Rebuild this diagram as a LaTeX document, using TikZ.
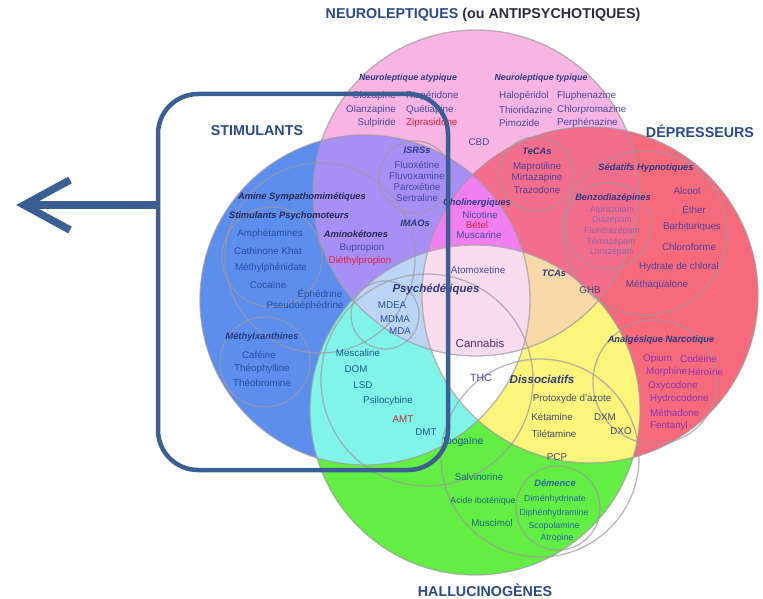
\documentclass[tikz,border=0pt]{standalone}
\usepackage{fontspec}
\setmainfont{Liberation Sans}
\definecolor{cBlue}{RGB}{92,142,238}
\definecolor{cPink}{RGB}{248,180,226}
\definecolor{cRed}{RGB}{247,106,124}
\definecolor{cPR}{RGB}{243,110,140}
\definecolor{cGreen}{RGB}{98,238,66}
\definecolor{cPurple}{RGB}{166,143,245}
\definecolor{cMagenta}{RGB}{240,128,240}
\definecolor{cCyan}{RGB}{128,244,232}
\definecolor{cYellow}{RGB}{251,245,124}
\definecolor{cLBlue}{RGB}{188,213,247}
\definecolor{cLPink}{RGB}{249,220,238}
\definecolor{cPeach}{RGB}{249,217,168}
\definecolor{lineC}{RGB}{160,152,160}
\definecolor{frameC}{RGB}{59,95,146}
\definecolor{titleC}{RGB}{43,74,140}
\definecolor{ouC}{RGB}{45,45,60}
\definecolor{headC}{RGB}{46,58,128}
\definecolor{darkHead}{RGB}{40,40,85}
\definecolor{pinkT}{RGB}{72,72,160}
\definecolor{blueT}{RGB}{38,80,160}
\definecolor{cyanT}{RGB}{30,88,142}
\definecolor{redT}{RGB}{224,32,58}
\definecolor{amtT}{RGB}{190,48,48}
\definecolor{sedT}{RGB}{80,64,154}
\definecolor{benzoT}{RGB}{150,98,168}
\definecolor{narcT}{RGB}{138,53,176}
\definecolor{dissT}{RGB}{72,72,110}
\definecolor{greenT}{RGB}{26,104,122}
\definecolor{demT}{RGB}{40,104,154}
\definecolor{cannT}{RGB}{90,42,106}
\begin{document}
\begin{tikzpicture}[x=1pt,y=-1pt,
  lbl/.style={inner sep=0pt,font=\fontsize{9.8}{11}\selectfont},
  small/.style={inner sep=0pt,font=\fontsize{8.8}{10}\selectfont},
  hdr/.style={inner sep=0pt,text=headC,font=\fontsize{9.3}{11}\selectfont\bfseries\itshape},
  bighdr/.style={inner sep=0pt,text=headC,font=\fontsize{11.5}{13}\selectfont\bfseries\itshape},
  ttl/.style={inner sep=0pt,text=titleC,font=\fontsize{14.3}{16}\selectfont\bfseries},
  subc/.style={draw=lineC,line width=1.3pt,opacity=0.7},
  framestyle/.style={draw=frameC,line width=4.5pt,rounded corners=40pt},
  arrowstyle/.style={draw=frameC,line width=7.5pt}
]
\useasboundingbox (0,0) rectangle (763,599);
\fill[white] (0,0) rectangle (763,599);
\coordinate (cb) at (365,300);
\coordinate (cp) at (476,193);
\coordinate (cr) at (590,295);
\coordinate (cg) at (475,410);
% base circles
\fill[cBlue] (cb) circle[radius=165pt];
\fill[cPink] (cp) circle[radius=163pt];
\fill[cRed] (cr) circle[radius=168pt];
\fill[cGreen] (cg) circle[radius=165pt];
% pairwise overlaps
\begin{scope}\clip (cb) circle[radius=165pt]; \fill[cPurple] (cp) circle[radius=163pt];\end{scope}
\begin{scope}\clip (cp) circle[radius=163pt]; \fill[cPR] (cr) circle[radius=168pt];\end{scope}
\begin{scope}\clip (cb) circle[radius=165pt]; \fill[cCyan] (cg) circle[radius=165pt];\end{scope}
\begin{scope}\clip (cg) circle[radius=165pt]; \fill[cYellow] (cr) circle[radius=168pt];\end{scope}
% triple overlaps
\begin{scope}\clip (cb) circle[radius=165pt]; \clip (cp) circle[radius=163pt]; \fill[cMagenta] (cr) circle[radius=168pt];\end{scope}
\begin{scope}\clip (cb) circle[radius=165pt]; \clip (cp) circle[radius=163pt]; \fill[cLBlue] (cg) circle[radius=165pt];\end{scope}
\begin{scope}\clip (cp) circle[radius=163pt]; \clip (cg) circle[radius=165pt]; \fill[cPeach] (cr) circle[radius=168pt];\end{scope}
\begin{scope}\clip (cb) circle[radius=165pt]; \clip (cg) circle[radius=165pt]; \fill[white] (cr) circle[radius=168pt];\end{scope}
% all four
\begin{scope}\clip (cb) circle[radius=165pt]; \clip (cp) circle[radius=163pt]; \clip (cg) circle[radius=165pt]; \fill[cLPink] (cr) circle[radius=168pt];\end{scope}
% outlines of the main circles
\draw[subc] (cb) circle[radius=165pt];
\draw[subc] (cp) circle[radius=163pt];
\draw[subc] (cr) circle[radius=168pt];
\draw[subc] (cg) circle[radius=165pt];
% sub-category circles
\draw[subc] (415,177) circle[radius=36pt];
\draw[subc] (536,174) circle[radius=37pt];
\draw[subc] (608,226) circle[radius=43pt];
\draw[subc] (645,233) circle[radius=82pt];
\draw[subc] (655,382) circle[radius=62pt];
\draw[subc] (540,458) circle[radius=99pt];
\draw[subc] (558,508) circle[radius=42pt];
\draw[subc] (427,380) circle[radius=106pt];
\draw[subc] (385,315) circle[radius=34pt];
\draw[subc] (272,257) circle[radius=50pt];
\draw[subc] (320,258) circle[radius=95pt];
\draw[subc] (265,362) circle[radius=45pt];
% titles
\node[ttl] (tneuro) at (483,15) {NEUROLEPTIQUES {\color{ouC}(ou ANTIPSYCHOTIQUES)}};
\node[ttl] (tstim) at (257,131) {STIMULANTS};
\node[ttl] (tdep) at (700,131) {DÉPRESSEURS};
\node[ttl] (thallu) at (485,590) {HALLUCINOGÈNES};
% neuroleptiques
\node[hdr,font=\fontsize{8.8}{10}\selectfont\bfseries\itshape] (hatyp) at (408,78) {Neuroleptique atypique};
\node[hdr,font=\fontsize{8.8}{10}\selectfont\bfseries\itshape] (htyp) at (541,78) {Neuroleptique typique};
\node[lbl,text=pinkT,anchor=east] (cloz) at (396,96) {Clozapine};
\node[lbl,text=pinkT,anchor=west] (risp) at (406,96) {Rispéridone};
\node[lbl,text=pinkT,anchor=east] (olan) at (396,110) {Olanzapine};
\node[lbl,text=pinkT,anchor=west] (quet) at (406,110) {Quétiapine};
\node[lbl,text=pinkT,anchor=east] (sulp) at (396,123) {Sulpiride};
\node[lbl,text=redT,anchor=west] (zipr) at (406,123) {Ziprasidone};
\node[lbl,text=pinkT,anchor=west] (halo) at (499,96) {Halopéridol};
\node[lbl,text=pinkT,anchor=west] (fluph) at (557,96) {Fluphenazine};
\node[lbl,text=pinkT,anchor=west] (thio) at (499,110) {Thioridazine};
\node[lbl,text=pinkT,anchor=west] (chlorp) at (557,110) {Chlorpromazine};
\node[lbl,text=pinkT,anchor=west] (pimo) at (499,123) {Pimozide};
\node[lbl,text=pinkT,anchor=west] (perph) at (557,123) {Perphénazine};
\node[lbl,text=pinkT] (cbd) at (479,142) {CBD};
% ISRS / IMAO
\node[hdr] (hisrs) at (417,150) {ISRSs};
\node[lbl,text=pinkT] (fluox) at (417,165) {Fluoxétine};
\node[lbl,text=pinkT] (fluvo) at (417,176) {Fluvoxamine};
\node[lbl,text=pinkT] (parox) at (417,187) {Paroxétine};
\node[lbl,text=pinkT] (sert) at (417,198) {Sertraline};
\node[hdr] (himao) at (415,223) {IMAOs};
% stimulants
\node[hdr,text=darkHead] (hamine) at (302,197) {Amine Sympathomimétiques};
\node[hdr,text=darkHead] (hpsycho) at (289,216) {Stimulants Psychomoteurs};
\node[lbl,text=blueT] (amph) at (270,234) {Amphétamines};
\node[lbl,text=blueT] (cath) at (268,251) {Cathinone Khat};
\node[lbl,text=blueT] (methyl) at (271,268) {Méthylphénidate};
\node[lbl,text=blueT] (coca) at (268,285) {Cocaïne};
\node[lbl,text=blueT] (ephed) at (320,294) {Éphédrine};
\node[lbl,text=blueT] (pseudo) at (305,306) {Pseudoéphédrine};
\node[hdr,text=darkHead] (hamino) at (356,234) {Aminokétones};
\node[lbl,text=pinkT] (bupro) at (362,248) {Bupropion};
\node[lbl,text=redT] (dieth) at (360,261) {Diéthylpropion};
\node[hdr] (hxanth) at (262,337) {Méthylxanthines};
\node[lbl,text=blueT] (cafe) at (259,355) {Caféine};
\node[lbl,text=blueT] (theoph) at (262,369) {Théophylline};
\node[lbl,text=blueT] (theob) at (262,383) {Théobromine};
% cholinergiques
\node[hdr,anchor=west] (hcholi) at (443,203) {Cholinergiques};
\node[lbl,text=pinkT] (nico) at (480,215) {Nicotine};
\node[lbl,text=redT] (betel) at (477,225) {Bétel};
\node[lbl,text=pinkT] (musca) at (479,235) {Muscarine};
% TeCAs
\node[hdr] (htecas) at (537,151) {TeCAs};
\node[lbl,text=sedT] (mapro) at (537,167) {Maprotiline};
\node[lbl,text=sedT] (mirta) at (537,178) {Mirtazapine};
\node[lbl,text=sedT] (trazo) at (537,190) {Trazodone};
% psychedeliques & centre
\node[bighdr] (hpsyche) at (436,289) {Psychédéliques};
\node[lbl,text=blueT] (mdea) at (392,305) {MDEA};
\node[lbl,text=blueT] (mdma) at (395,319) {MDMA};
\node[lbl,text=blueT] (mda) at (400,331) {MDA};
\node[lbl,text=pinkT] (atomo) at (478,270) {Atomoxetine};
\node[lbl,text=cannT,font=\fontsize{11.5}{13}\selectfont] (canna) at (480,343) {Cannabis};
\node[lbl,text=pinkT,font=\fontsize{10.5}{12}\selectfont] (thc) at (481,378) {THC};
\node[lbl,text=cyanT] (mesc) at (358,353) {Mescaline};
\node[lbl,text=cyanT] (dom) at (356,369) {DOM};
\node[lbl,text=cyanT] (lsd) at (363,385) {LSD};
\node[lbl,text=cyanT] (psilo) at (388,401) {Psilocybine};
\node[lbl,text=amtT] (amt) at (403,419) {AMT};
\node[lbl,text=cyanT] (dmt) at (426,432) {DMT};
\node[lbl,text=cyanT,anchor=west,font=\fontsize{10.3}{12}\selectfont] (ibog) at (443,442) {Ibogaïne};
% depresseurs
\node[hdr] (htcas) at (554,273) {TCAs};
\node[lbl,text=dissT] (ghb) at (590,290) {GHB};
\node[hdr] (hsedat) at (646,168) {Sédatifs Hypnotiques};
\node[hdr] (hbenzo) at (613,198) {Benzodiazépines};
\node[small,text=benzoT] (alpra) at (612,210) {Alprazolam};
\node[small,text=benzoT] (diaz) at (612,220) {Diazépam};
\node[small,text=benzoT] (fluni) at (612,231) {Flunitrazépam};
\node[small,text=benzoT] (temaz) at (611,242) {Témazépam};
\node[small,text=benzoT] (loraz) at (612,252) {Lorazépam};
\node[lbl,text=sedT] (alcool) at (687,191) {Alcool};
\node[lbl,text=sedT] (ether) at (694,209) {Éther};
\node[lbl,text=sedT] (barbi) at (692,227) {Barbituriques};
\node[lbl,text=sedT] (chloro) at (689,247) {Chloroforme};
\node[lbl,text=sedT] (hydrate) at (679,267) {Hydrate de chloral};
\node[lbl,text=sedT] (methaq) at (657,285) {Méthaqualone};
\node[hdr] (hnarco) at (661,340) {Analgésique Narcotique};
\node[lbl,text=narcT,anchor=west] (opium) at (643,359) {Opium};
\node[lbl,text=narcT,anchor=west] (codei) at (680,359) {Codéine};
\node[lbl,text=narcT,anchor=west] (morph) at (646,372) {Morphine};
\node[lbl,text=narcT,anchor=west] (hero) at (688,372) {Héroïne};
\node[lbl,text=narcT,anchor=west] (oxy) at (648,386) {Oxycodone};
\node[lbl,text=narcT,anchor=west] (hydro) at (650,399) {Hydrocodone};
\node[lbl,text=narcT,anchor=west] (metha) at (650,413) {Méthadone};
\node[lbl,text=narcT,anchor=west] (fenta) at (650,426) {Fentanyl};
% dissociatifs
\node[bighdr] (hdisso) at (542,379) {Dissociatifs};
\node[lbl,text=dissT] (proto) at (572,399) {Protoxyde d'azote};
\node[lbl,text=dissT] (keta) at (552,417) {Kétamine};
\node[lbl,text=dissT] (dxm) at (605,417) {DXM};
\node[lbl,text=dissT] (tilet) at (554,434) {Tilétamine};
\node[lbl,text=dissT] (dxo) at (621,431) {DXO};
\node[lbl,text=dissT] (pcp) at (557,457) {PCP};
% hallucinogenes
\node[lbl,text=greenT] (salvi) at (479,477) {Salvinorine};
\node[small,text=greenT] (iboten) at (483,501) {Acide iboténique};
\node[lbl,text=greenT] (musci) at (492,523) {Muscimol};
\node[hdr,text=demT] (hdemen) at (555,483) {Démence};
\node[small,text=demT] (dimen) at (555,499) {Diménhydrinate};
\node[small,text=demT] (diphen) at (554,513) {Diphénhydramine};
\node[small,text=demT] (scopo) at (554,526) {Scopolamine};
\node[small,text=demT] (atro) at (557,538) {Atropine};
% frame and arrow
\node[framestyle,minimum width=290pt,minimum height=376pt,inner sep=0pt] (frame) at (303,282) {};
\coordinate (atail) at (frame.west |- 0,205);
\coordinate (atip) at (24,205);
\draw[arrowstyle] (atail) -- (atip);
\draw[arrowstyle,line join=miter] (atip) ++(46,-25) -- (atip) -- ++(46,25);
\end{tikzpicture}
\end{document}
